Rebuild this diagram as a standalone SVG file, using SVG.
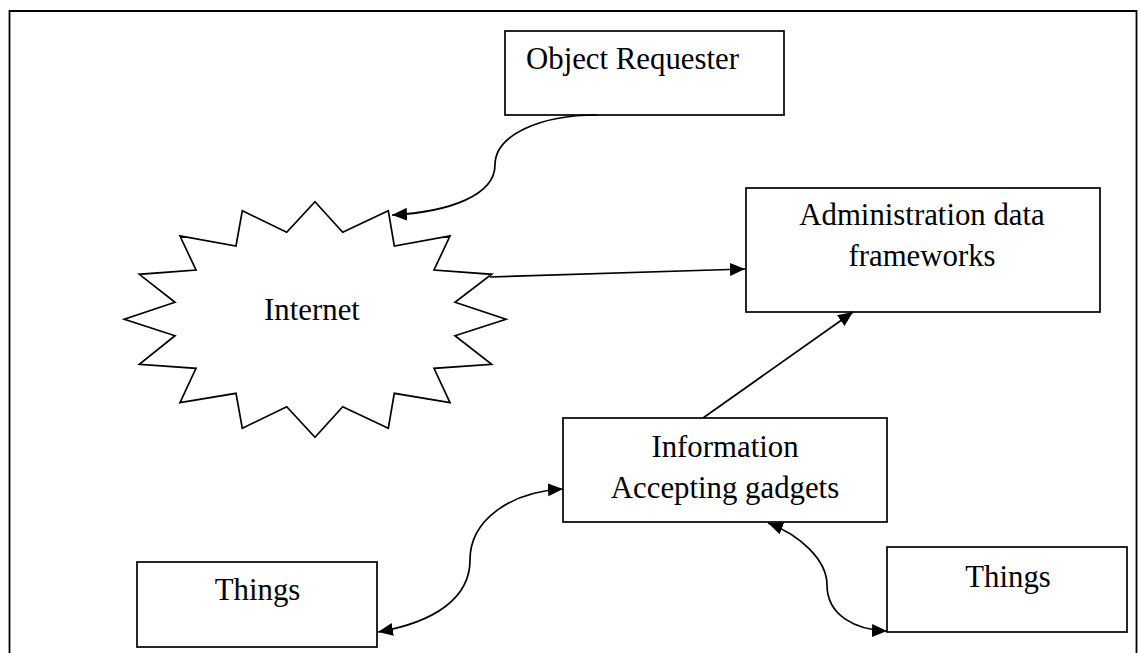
<svg xmlns="http://www.w3.org/2000/svg" width="1141" height="653" viewBox="0 0 1141 653">
  <style>
    .box { fill: #ffffff; stroke: #000000; stroke-width: 1.7; }
    .lbl { font-family: "Liberation Serif", "Times New Roman", serif; font-size: 30.8px; fill: #000000; }
    .mid { text-anchor: middle; }
    .conn { fill: none; stroke: #000000; stroke-width: 1.7; }
  </style>
  <defs>
    <marker id="arrow" markerUnits="userSpaceOnUse" markerWidth="17" markerHeight="14" refX="15" refY="6.5" orient="auto-start-reverse">
      <path d="M0,0 L15,6.5 L0,13 Z" fill="#000000"/>
    </marker>
  </defs>

  <rect width="1141" height="653" fill="#ffffff"/>
  <!-- outer frame (open at the bottom) -->
  <path d="M9.5,660 L9.5,11 L1136.5,11 L1136.5,660" fill="none" stroke="#000000" stroke-width="1.8"/>

  <g id="object-requester">
    <rect class="box" x="505" y="31" width="279" height="84"/>
    <text class="lbl" x="526" y="69">Object Requester</text>
  </g>

  <g id="internet">
    <polygon class="box" points="315,201.7 342.7,232.3 388.3,210.7 394.3,246 450,236 434,270 491.7,274.3 455,302.3 506,319.3 455,335.7 491.7,364.3 434,368.3 450,402.7 394.3,393.3 388.3,428.3 342.7,406.7 315,437.3 286.7,406.7 242.3,428.3 236,393.3 180,402.7 196,368.3 139.3,364.3 175,335.7 124.3,319.3 175,302.3 139.3,274.3 196,270 180,236 236,246 242.3,210.7 286.7,232.3"/>
    <text class="lbl mid" x="312" y="320">Internet</text>
  </g>

  <g id="administration">
    <rect class="box" x="746" y="188" width="354" height="124"/>
    <text class="lbl mid" x="922" y="225">Administration data</text>
    <text class="lbl mid" x="922" y="266">frameworks</text>
  </g>

  <g id="information">
    <rect class="box" x="563" y="418" width="324" height="104"/>
    <text class="lbl mid" x="725" y="457">Information</text>
    <text class="lbl mid" x="725" y="498">Accepting gadgets</text>
  </g>

  <g id="things-left">
    <rect class="box" x="137" y="562" width="240" height="85"/>
    <text class="lbl mid" x="257.5" y="600">Things</text>
  </g>

  <g id="things-right">
    <rect class="box" x="887" y="547" width="240" height="85"/>
    <text class="lbl mid" x="1008" y="587">Things</text>
  </g>

  <g id="connectors">
    <path class="conn" d="M597,115 C540,115 495,135 495,165 C495,195 450,212 392,215" marker-end="url(#arrow)"/>
    <path class="conn" d="M490,277 L745,269" marker-end="url(#arrow)"/>
    <path class="conn" d="M703,418 L853,312" marker-end="url(#arrow)"/>
    <path class="conn" d="M378,632 C435,622 470,598 470,560 C470,520 510,492 563,489" marker-start="url(#arrow)" marker-end="url(#arrow)"/>
    <path class="conn" d="M768,523 C800,535 827,560 827,585 C827,615 855,630 887,631" marker-start="url(#arrow)" marker-end="url(#arrow)"/>
  </g>
</svg>
